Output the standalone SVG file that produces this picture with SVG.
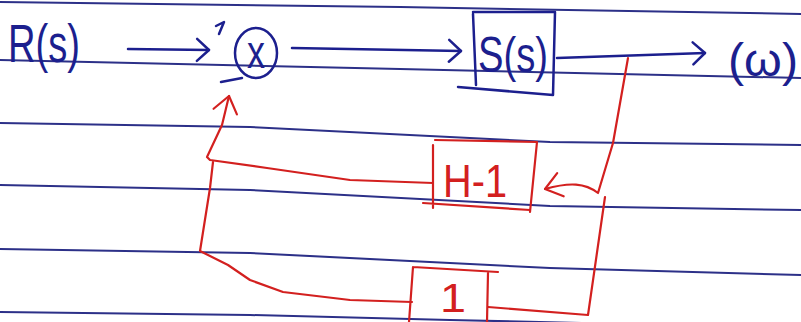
<svg xmlns="http://www.w3.org/2000/svg" width="801" height="322" viewBox="0 0 801 322">
<style>
.rule{fill:none;stroke:#2c3088;stroke-width:2}
.blue{fill:none;stroke:#1c1f8e;stroke-width:2.5;stroke-linecap:round;stroke-linejoin:round}
.red{fill:none;stroke:#d3201f;stroke-width:2.2;stroke-linecap:round;stroke-linejoin:round}
.tb{font-family:"Liberation Sans",Arial,sans-serif;fill:#1c1f8e}
.tr{font-family:"Liberation Sans",Arial,sans-serif;fill:#d3201f}
</style>
<defs>
<marker id="ab" markerUnits="userSpaceOnUse" markerWidth="16" markerHeight="26" refX="13" refY="12" orient="auto" overflow="visible">
<path d="M1,1 L13,12 L1,23" fill="none" stroke="#1c1f8e" stroke-width="2.5" stroke-linecap="round" stroke-linejoin="round"/>
</marker>
<marker id="ar" markerUnits="userSpaceOnUse" markerWidth="20" markerHeight="28" refX="17" refY="13" orient="auto" overflow="visible">
<path d="M1,1 L17,13 L1,25" fill="none" stroke="#d3201f" stroke-width="2.2" stroke-linecap="round" stroke-linejoin="round"/>
</marker>
</defs>
<rect width="801" height="322" fill="#ffffff"/>
<g id="paper">
<polyline class="rule" points="0,2 400,7 801,14"/>
<polyline class="rule" points="0,60 400,69 801,78"/>
<polyline class="rule" points="0,123 250,127 550,142 801,145"/>
<polyline class="rule" points="0,185 250,190 550,206 801,210"/>
<polyline class="rule" points="0,249 250,253 550,268 801,275"/>
<polyline class="rule" points="0,312 250,315 450,320 801,328"/>
</g>
<g id="connectors">
<path class="blue" d="M128,49 L209,50" marker-end="url(#ab)"/>
<path class="blue" d="M292,48 L461,51" marker-end="url(#ab)"/>
<path class="blue" d="M557,58 L705,53" marker-end="url(#ab)"/>
<path class="red" d="M628,58 L613,143 L598,193 C585,183 570,182 545,189" marker-end="url(#ar)"/>
<path class="red" d="M433,183 L350,180 L267,168 L210,160 L207,157 L222,125 L229,96" marker-end="url(#ar)"/>
<path class="red" d="M605,197 L588,315 L488,307"/>
<path class="red" d="M412,302 L350,300 L283,292 L250,280 L228,265 L200,251 L210,188 L213,162"/>
</g>
<g id="input">
<text class="tb" x="8" y="62" font-size="54" textLength="72" lengthAdjust="spacingAndGlyphs">R(s)</text>
</g>
<g id="sum">
<ellipse class="blue" cx="256" cy="53" rx="21" ry="25"/>
<text class="tb" x="247" y="68" font-size="46" textLength="18" lengthAdjust="spacingAndGlyphs">x</text>
<path class="blue" d="M216,26 L224,22 L219,34"/>
<path class="blue" d="M221,82 L242,78"/>
</g>
<g id="plant">
<path class="blue" d="M473,12 L555,12 M555,12 L553,95 M473,14 L476,85 M458,87 L553,95"/>
<text class="tb" x="478" y="72" font-size="50" textLength="70" lengthAdjust="spacingAndGlyphs">S(s)</text>
</g>
<g id="output">
<text class="tb" x="728" y="76" font-size="46" textLength="70" lengthAdjust="spacingAndGlyphs">(ω)</text>
</g>
<g id="block-h1">
<path class="red" d="M435,140 L537,142 M537,142 L530,212 M433,145 L433,208 M423,203 L530,210"/>
<text class="tr" x="443" y="197" font-size="46" textLength="64" lengthAdjust="spacingAndGlyphs">H-1</text>
</g>
<g id="block-1">
<path class="red" d="M413,267 L498,272 M413,267 L409,322 M488,273 L487,322"/>
<text class="tr" x="440" y="312" font-size="40" textLength="26" lengthAdjust="spacingAndGlyphs">1</text>
</g>
</svg>
